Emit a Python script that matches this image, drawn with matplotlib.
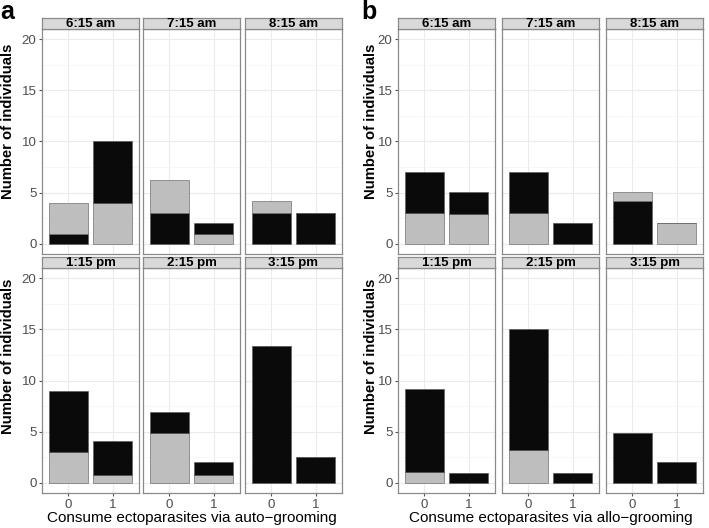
import matplotlib.pyplot as plt

plt.rcParams['font.family'] = ['Liberation Sans', 'DejaVu Sans']

GREY = '#bebebe'
BLACK = '#0a0a0a'

times = ['6:15 am', '7:15 am', '8:15 am', '1:15 pm', '2:15 pm', '3:15 pm']
xcats = ['0', '1']

# each bar: bottom segment value, bottom colour ('g'/'k'), top segment value, top colour
a_bottom = [[1, 4], [3, 1], [3, 3], [3, 0.8], [4.9, 0.8], [13.4, 2.5]]
a_bottom_col = [['k', 'g'], ['k', 'g'], ['k', 'k'], ['g', 'g'], ['g', 'g'], ['k', 'k']]
a_top = [[3, 6], [3.25, 1], [1.2, 0], [6, 3.3], [2, 1.2], [0, 0]]
a_top_col = [['g', 'k'], ['g', 'k'], ['g', 'k'], ['k', 'k'], ['k', 'k'], ['k', 'k']]

b_bottom = [[3, 2.9], [3.05, 2], [4.2, 2.05], [1.1, 1], [3.2, 1], [4.9, 2.05]]
b_bottom_col = [['g', 'g'], ['g', 'k'], ['k', 'g'], ['g', 'k'], ['g', 'k'], ['k', 'k']]
b_top = [[4, 2.2], [4, 0], [0.9, 0], [8.1, 0], [11.8, 0], [0, 0]]
b_top_col = [['k', 'k'], ['k', 'k'], ['g', 'g'], ['k', 'k'], ['k', 'k'], ['k', 'k']]

cmap = {'g': GREY, 'k': BLACK}
W, H = 709, 528
fig = plt.figure(figsize=(W / 100, H / 100), dpi=100)


def px(x, y, w, h):
    return [x / W, 1 - (y + h) / H, w / W, h / H]


def draw_panel(lefts, bottoms, bcols, tops, tcols, xlabel, letter, lx, ylab_x):
    rows = [(29, 18, 121), (268, 257, 356)]
    for i, t in enumerate(times):
        r, c = divmod(i, 3)
        ptop, stop, ymid = rows[r]
        ax = fig.add_axes(px(lefts[c], ptop, 97, 225))
        ax.set_xlim(-0.6, 1.6)
        ax.set_ylim(-1, 21)
        ax.set_yticks([0, 5, 10, 15, 20])
        ax.set_yticks([2.5, 7.5, 12.5, 17.5], minor=True)
        ax.set_xticks([0, 1])
        ax.grid(True, which='major', color='#ebebeb', lw=0.8)
        ax.grid(True, which='minor', axis='y', color='#f4f4f4', lw=0.5)
        ax.set_axisbelow(True)
        for s in ax.spines.values():
            s.set_color('#8a8a8a')
            s.set_linewidth(0.9)
        ax.bar([0, 1], bottoms[i], width=0.9, color=[cmap[k] for k in bcols[i]],
               edgecolor='#555555', linewidth=0.4)
        ax.bar([0, 1], tops[i], bottom=bottoms[i], width=0.9,
               color=[cmap[k] for k in tcols[i]], edgecolor='#555555', linewidth=0.4)
        ax.tick_params(axis='both', which='both', length=2.5, color='#555555',
                       labelcolor='#4d4d4d', labelsize=9.5, pad=1.5)
        ax.tick_params(which='minor', length=0)
        if c != 0:
            ax.set_yticklabels([])
            ax.tick_params(axis='y', length=0)
        if r == 0:
            ax.set_xticklabels([])
            ax.tick_params(axis='x', length=0)
        else:
            ax.set_xticklabels(xcats)
        # strip
        sax = fig.add_axes(px(lefts[c], stop, 97, 11))
        sax.set_xticks([])
        sax.set_yticks([])
        sax.set_facecolor('#d9d9d9')
        for s in sax.spines.values():
            s.set_color('#8a8a8a')
            s.set_linewidth(0.9)
        sax.text(0.5, 0.45, t, ha='center', va='center', fontsize=9.5,
                 fontweight='bold', transform=sax.transAxes)
        if c == 0:
            fig.text(ylab_x / W, 1 - ymid / H, 'Number of individuals',
                     rotation=90, ha='center', va='center', fontsize=10.7, fontweight='bold')
    cx = (lefts[0] + lefts[2] + 97) / 2
    fig.text(cx / W, 1 - 518 / H, xlabel, ha='center', va='center', fontsize=11)
    fig.text(lx / W, 1 - 12 / H, letter, ha='left', va='center', fontsize=18, fontweight='bold')


draw_panel([42, 143, 245], a_bottom, a_bottom_col, a_top, a_top_col,
           'Consume ectoparasites via auto\u2212grooming', 'a', 0, 8)
draw_panel([398, 502, 606], b_bottom, b_bottom_col, b_top, b_top_col,
           'Consume ectoparasites via allo\u2212grooming', 'b', 361, 371)

fig.savefig('out.png', dpi=100)
